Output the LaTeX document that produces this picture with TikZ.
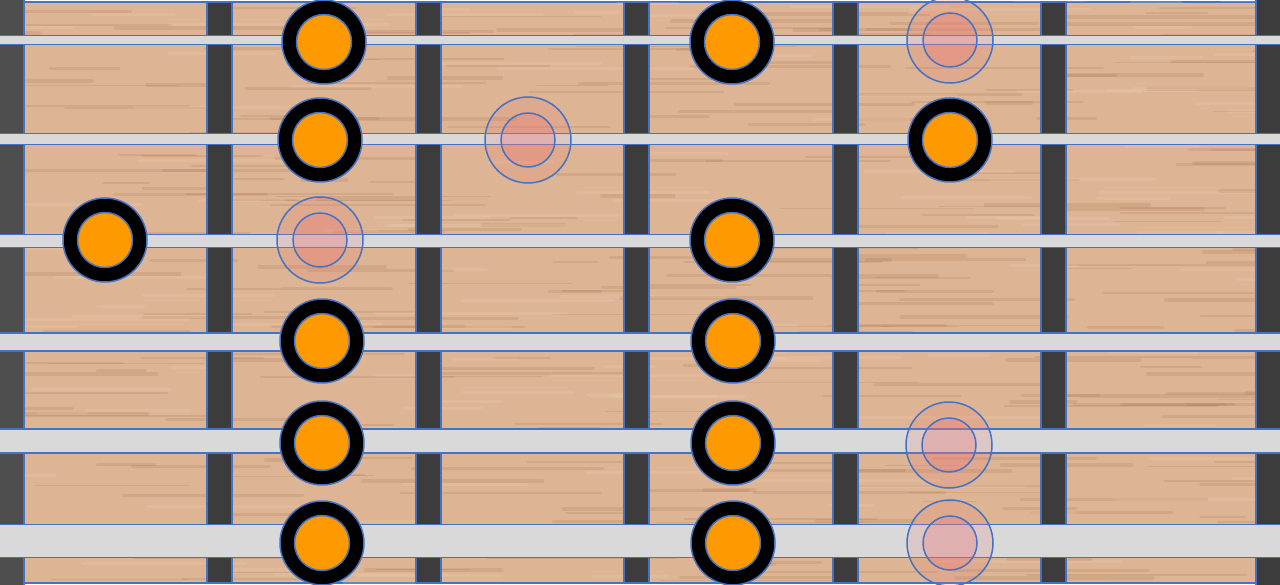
\documentclass[tikz,border=0pt]{standalone}
\definecolor{wood}{RGB}{221,180,148}
\definecolor{woodDark}{RGB}{165,115,80}
\definecolor{woodLight}{RGB}{240,210,182}
\definecolor{fretGray}{RGB}{60,60,60}
\definecolor{nutGray}{RGB}{78,78,78}
\definecolor{stringGray}{RGB}{217,217,217}
\definecolor{edgeBlue}{RGB}{68,114,196}
\definecolor{noteOrange}{RGB}{255,153,0}
\definecolor{ghostPink}{RGB}{235,120,120}
\begin{document}
\begin{tikzpicture}[x=1pt, y=-1pt, line join=round, line cap=round,
	outline/.style={draw=edgeBlue, line width=1.5pt},
	fretbar/.style={outline, fill=fretGray},
	grain/.style={line width=#1, opacity=.2},
	ring/.style={circle, outline, fill=black, minimum size=84pt, inner sep=0pt},
	core/.style={circle, outline, fill=noteOrange, minimum size=55pt, inner sep=0pt},
	ghost/.style={circle, outline, fill=ghostPink, fill opacity=.18, minimum size=86pt, inner sep=0pt},
	ghostcore/.style={circle, outline, fill=ghostPink, fill opacity=.3, minimum size=54pt, inner sep=0pt}]
	\def\W{1280} \def\H{585}
	\useasboundingbox (0,0) rectangle (\W,\H);
	% board
	\draw[outline, fill=wood] (24,2) rectangle (1256,583);
	\begin{scope}
		\clip (24,2) rectangle (1256,583);
		\pgfmathsetseed{17}
		\foreach \k in {1,...,340}{
			\pgfmathsetmacro\gx{1300*rnd-40}
			\pgfmathsetmacro\gy{590*rnd}
			\pgfmathsetmacro\gl{40+180*rnd}
			\pgfmathsetmacro\gw{1+3*rnd}
			\draw[grain=\gw pt, woodDark] (\gx,\gy) -- ++(\gl,0);
		}
		\foreach \k in {1,...,140}{
			\pgfmathsetmacro\gx{1300*rnd-40}
			\pgfmathsetmacro\gy{590*rnd}
			\pgfmathsetmacro\gl{40+160*rnd}
			\draw[grain=3pt, woodLight] (\gx,\gy) -- ++(\gl,0);
		}
	\end{scope}
	% nut and frets
	\draw[outline, fill=nutGray] (-2,-2) rectangle (24,587);
	\draw[fretbar] (1256,-2) rectangle (1282,587);
	\foreach \x in {219.5,428.5,636.5,845.5,1053.5}
		\draw[fretbar] ({\x-12.5},2) rectangle ({\x+12.5},583);
	% strings
	\foreach \y/\w in {40/9, 139/11, 241/13, 342/18, 441/24, 541/33}
		\draw[outline, fill=stringGray] (-2,{\y-\w/2}) rectangle (1282,{\y+\w/2});
	% notes
	\foreach \x/\y [count=\n] in {324/42, 732/42, 320/140, 950/140, 105/240, 732/240,
		322/341, 733/341, 322/443, 733/443, 322/543, 733/543}{
		\node[ring] (note\n) at (\x,\y) {};
		\node[core] (noteCore\n) at (note\n) {};
	}
	\foreach \x/\y [count=\n] in {950/40, 528/140, 320/240, 949/445, 950/543}{
		\node[ghost] (ghost\n) at (\x,\y) {};
		\node[ghostcore] (ghostCore\n) at (ghost\n) {};
	}
\end{tikzpicture}
\end{document}
